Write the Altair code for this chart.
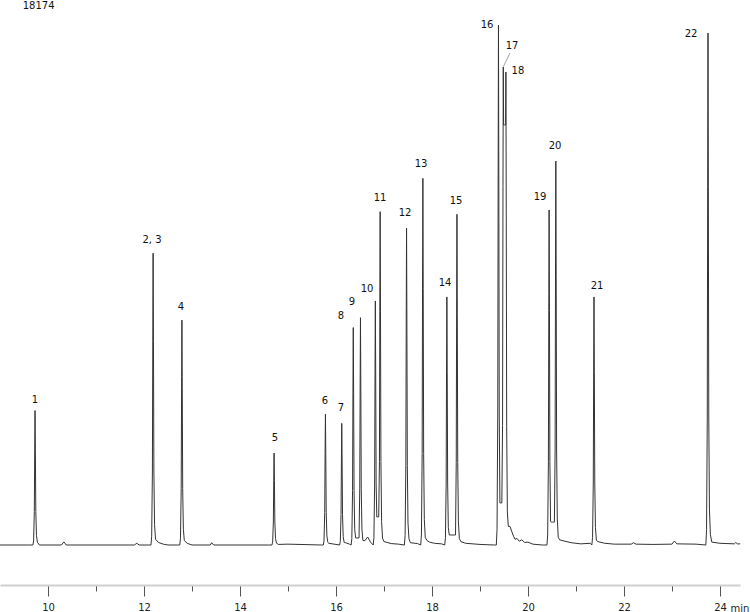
import altair as alt
import pandas as pd

# ---------------- data ----------------
# Peak apexes: retention time (min) and height (counts)
PEAK_T = [9.73, 12.19, 12.79, 14.71, 15.78, 16.12, 16.36, 16.51, 16.82, 16.92,
          17.47, 17.81, 18.31, 18.52, 19.385, 19.485, 19.54, 20.44, 20.58, 21.375, 23.75]
PEAK_H = [4700, 10200, 7860, 3215, 4570, 4250, 7600, 7945, 8530, 11650,
          11070, 12815, 8670, 11560, 18174, 16705, 16530, 11710, 13420, 8670, 17895]
# valley height between a peak and the next one (0 = back to baseline)
VALLEY_NEXT = [0, 0, 0, 0, 0, 0, 245, 0, 980, 0,
               0, 0, 350, 0, 1470, 14680, 0, 800, 0, 0, 0]
# level the right flank of a peak falls to (tailing)
RIGHT_FLOOR = [0, 100, 0, 0, 60, 80, 0, 0, 0, 120,
               80, 150, 0, 120, 0, 0, 650, 0, 180, 120, 100]
# peak shape: time offset (min) and fraction of height
SHAPE_DT = [-0.045, -0.03, -0.015, -0.006, 0.0, 0.007, 0.016, 0.03, 0.05]
SHAPE_F = [0.0, 0.03, 0.25, 0.75, 1.0, 0.7, 0.25, 0.07, 0.02]

# baseline between peaks (time, counts): small bumps and tails
BASE_T = [9.0, 9.6, 9.82, 10.28, 10.33, 10.38, 11.8, 11.85, 11.9, 12.1,
          12.3, 12.4, 12.5, 12.7, 12.9, 13.0, 13.38, 13.41, 13.45, 14.6,
          14.8, 15.0, 15.7, 15.85, 16.0, 16.2, 16.28, 16.6, 16.66, 16.72,
          17.0, 17.15, 17.3, 17.55, 17.7, 17.9, 17.95, 18.05, 18.2, 18.6,
          18.7, 19.0, 19.3, 19.625, 19.66, 19.7, 19.73, 19.77, 19.82, 19.87,
          19.93, 20.0, 20.1, 20.3, 20.66, 20.75, 20.9, 21.1, 21.3, 21.45,
          21.6, 21.8, 22.15, 22.2, 22.25, 22.6, 23.0, 23.05, 23.1, 23.5,
          23.83, 24.0, 24.3, 24.33, 24.36, 24.42]
BASE_V = [0, 0, 0, 0, 110, 0, 0, 60, 0, 0,
          90, 30, 0, 0, 60, 0, 0, 80, 0, 0,
          20, 30, 0, 60, 20, 80, 30, 150, 280, 100,
          120, 50, 30, 80, 50, 150, 100, 60, 40, 120,
          60, 20, 0, 650, 480, 300, 200, 230, 130, 180,
          90, 100, 30, 0, 180, 140, 80, 40, 60, 120,
          60, 30, 30, 80, 30, 20, 30, 140, 40, 30,
          100, 60, 40, 90, 40, 40]

LABEL_TEXT = ["1", "2, 3", "4", "5", "6", "7", "8", "9", "10", "11", "12",
              "13", "14", "15", "16", "17", "18", "19", "20", "21", "22"]
LABEL_T = [9.729, 12.167, 12.77, 14.729, 15.771, 16.104, 16.104, 16.333, 16.646, 16.917, 17.4375,
           17.771, 18.271, 18.5, 19.146, 19.667, 19.79, 20.25, 20.5625, 21.4375, 23.396]
LABEL_V = [5068, 10660, 8318, 3740, 5033, 4788, 8004, 8493, 8947, 12128, 11603,
           13316, 9157, 12023, 18174, 17440, 16566, 12163, 13945, 9052, 17859]

LEADER_T = [19.625, 19.486]
LEADER_V = [17195, 16717]

FULL_SCALE_TEXT = ["18174"]
FULL_SCALE_T = [9.473]
FULL_SCALE_V = [18838]

TICK_VALUES = list(range(10, 25))
X_DOMAIN = [9.0, 24.4167]
Y_DOMAIN = [-1398, 19048]

# ---------------- build the trace ----------------
pts = []
windows = []
n = len(PEAK_T)
for i in range(n):
    t, h = PEAK_T[i], PEAK_H[i]
    left_valley = VALLEY_NEXT[i - 1] if i > 0 else 0
    right_valley = VALLEY_NEXT[i]
    lo = (PEAK_T[i - 1] + t) / 2 if left_valley > 0 else t + SHAPE_DT[0]
    hi = (t + PEAK_T[i + 1]) / 2 if right_valley > 0 else t + SHAPE_DT[-1]
    for dt, f in zip(SHAPE_DT, SHAPE_F):
        tt = t + dt
        v = f * h
        if dt < 0:
            if left_valley > 0:
                if tt <= lo:
                    continue
                v = max(v, left_valley)
        elif dt > 0:
            if right_valley > 0:
                if tt >= hi:
                    continue
                v = max(v, right_valley)
            else:
                v = max(v, RIGHT_FLOOR[i])
        pts.append((tt, v))
    if right_valley > 0:
        pts.append((hi, right_valley))
    windows.append((lo, hi))

for bt, bv in zip(BASE_T, BASE_V):
    if not any(lo <= bt <= hi for lo, hi in windows):
        pts.append((bt, bv))

pts.sort(key=lambda p: p[0])
trace = pd.DataFrame(pts, columns=["t", "v"])

labels = pd.DataFrame({"t": LABEL_T, "v": LABEL_V, "label": LABEL_TEXT})
leader = pd.DataFrame({"t": LEADER_T, "v": LEADER_V})
full_scale = pd.DataFrame({"t": FULL_SCALE_T, "v": FULL_SCALE_V, "label": FULL_SCALE_TEXT})

FONT = "DejaVu Sans"

x_axis = alt.Axis(
    values=TICK_VALUES,
    tickSize={"condition": {"test": "datum.value % 2 === 0", "value": 11}, "value": 6},
    labelExpr="datum.value % 2 === 0 ? datum.label : ''",
    grid=False,
    domainColor="#cfcfcf",
    domainWidth=2,
    tickColor="#555555",
    tickWidth=1,
    labelFont=FONT,
    labelFontSize=10,
    labelColor="#222222",
    labelPadding=6,
    labelFlush=False,
    labelOverlap=False,
    title="min",
    titleAngle=0,
    titleX=730,
    titleY=23,
    titleAlign="left",
    titleBaseline="middle",
    titleFont=FONT,
    titleFontSize=10,
    titleFontWeight="normal",
    titleColor="#222222",
)

X_ENC = alt.X("t:Q", scale=alt.Scale(domain=X_DOMAIN, nice=False, zero=False), axis=x_axis)
Y_ENC = alt.Y("v:Q", scale=alt.Scale(domain=Y_DOMAIN, nice=False, zero=False), axis=None)

line = alt.Chart(trace).mark_line(color="#333333", strokeWidth=1, interpolate="linear").encode(
    x=X_ENC, y=Y_ENC, order="t:Q"
)

lead = alt.Chart(leader).mark_line(color="#8a8a8a", strokeWidth=0.8).encode(x=X_ENC, y=Y_ENC)

text = alt.Chart(labels).mark_text(
    font=FONT, fontSize=10, color="#111111", align="center", baseline="middle"
).encode(x=X_ENC, y=Y_ENC, text="label:N")

top_text = alt.Chart(full_scale).mark_text(
    font=FONT, fontSize=10, color="#111111", align="left", baseline="middle"
).encode(x=X_ENC, y=Y_ENC, text="label:N")

chart = alt.layer(line, lead, text, top_text).properties(
    width=740,
    height=585,
    autosize=alt.AutoSizeParams(type="none"),
    padding={"left": 0, "top": 0, "right": 10, "bottom": 27},
    background="white",
).configure_view(stroke=None)

chart.save("out.html", embed_options={"renderer": "svg", "actions": False})
